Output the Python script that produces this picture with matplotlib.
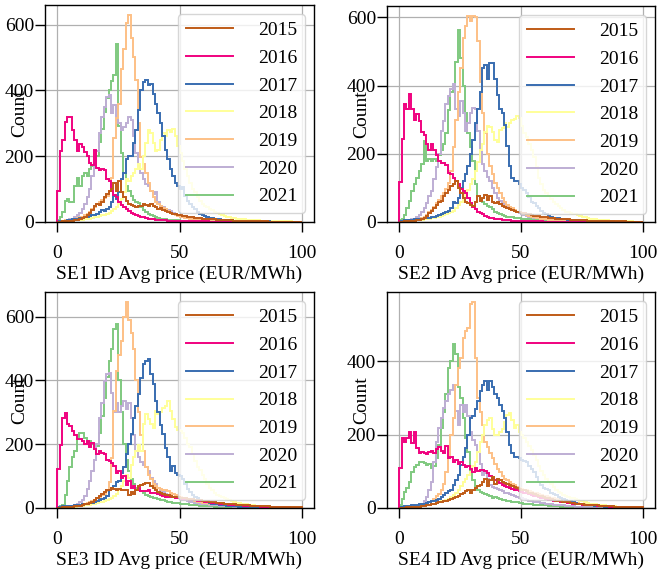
import numpy as np
from matplotlib import pyplot as plt
from matplotlib.ticker import MultipleLocator

plt.rcParams['font.family'] = ['Liberation Serif', 'DejaVu Serif']
plt.rcParams['font.size'] = 14

years = ['2015', '2016', '2017', '2018', '2019', '2020', '2021']
colors = ['#bf5b17', '#f0027f', '#386cb0', '#ffff99', '#fdc086', '#beaed4', '#7fc97f']
areas = ['SE1', 'SE2', 'SE3', 'SE4']

# hours per 1 EUR/MWh price bin, first bin starts at 0
se1_2015 = [1, 1, 2, 2, 3, 3, 4, 5, 6, 8,
            12, 15, 20, 28, 35, 50, 55, 52, 60, 75,
            85, 95, 100, 118, 95, 125, 90, 75, 65, 55,
            52, 50, 45, 48, 50, 55, 52, 50, 55, 48,
            45, 40, 42, 35, 32, 30, 28, 25, 24, 22,
            20, 18, 17, 16, 15, 14, 13, 12, 11, 10,
            10, 9, 9, 8, 8, 7, 7, 6, 6, 5,
            5, 5, 4, 4, 4, 3, 3, 3, 3, 2,
            2, 2, 2, 2, 2, 2, 1, 1, 1, 1,
            1, 1, 1, 1, 1, 1, 1, 1, 1, 1]
se1_2016 = [93, 215, 250, 305, 318, 320, 280, 250, 215, 238,
            228, 212, 200, 178, 172, 218, 165, 158, 160, 158,
            130, 125, 95, 83, 75, 62, 52, 45, 40, 32,
            28, 25, 22, 18, 15, 14, 12, 10, 9, 8,
            7, 6, 6, 5, 5, 4, 4, 4, 3, 3,
            3, 3, 3, 2, 2, 2, 2, 2, 2, 2,
            2, 2, 1, 1, 1, 1, 1, 1, 1, 1,
            1, 1, 1, 1, 1, 1, 1, 1, 1, 1,
            1, 1, 1, 1, 1, 1, 0, 1, 0, 1,
            0, 0, 1, 0, 0, 0, 1, 0, 0, 0]
se1_2017 = [2, 3, 3, 4, 5, 6, 8, 8, 10, 12,
            12, 14, 16, 18, 20, 22, 25, 30, 35, 32,
            38, 45, 60, 80, 70, 90, 130, 150, 190, 200,
            200, 240, 280, 340, 400, 425, 430, 415, 420, 390,
            360, 330, 300, 260, 220, 190, 160, 140, 120, 110,
            100, 105, 80, 65, 55, 45, 38, 30, 25, 20,
            18, 15, 13, 12, 10, 9, 8, 7, 6, 6,
            5, 5, 4, 4, 4, 3, 3, 3, 3, 2,
            2, 2, 2, 2, 2, 2, 2, 1, 1, 1,
            1, 1, 1, 1, 1, 1, 1, 1, 1, 1]
se1_2018 = [1, 1, 2, 2, 3, 3, 4, 5, 5, 6,
            7, 8, 9, 10, 12, 14, 16, 18, 20, 22,
            25, 28, 32, 38, 45, 55, 70, 90, 130, 125,
            140, 150, 160, 175, 160, 200, 240, 280, 270, 240,
            215, 220, 250, 270, 260, 280, 275, 282, 260, 230,
            210, 185, 160, 140, 120, 100, 90, 75, 65, 55,
            50, 45, 40, 35, 30, 27, 24, 20, 18, 16,
            15, 13, 12, 10, 9, 8, 8, 7, 7, 6,
            6, 5, 5, 4, 4, 4, 3, 3, 3, 3,
            2, 2, 2, 2, 2, 2, 1, 1, 1, 1]
se1_2019 = [2, 3, 4, 5, 6, 7, 8, 10, 12, 14,
            16, 20, 25, 30, 38, 45, 55, 60, 68, 72,
            78, 95, 135, 255, 315, 360, 465, 525, 605, 628,
            560, 500, 430, 300, 196, 175, 150, 120, 95, 75,
            62, 55, 48, 42, 38, 32, 28, 24, 20, 18,
            16, 14, 12, 11, 10, 9, 8, 7, 6, 6,
            5, 5, 4, 4, 4, 3, 3, 3, 3, 2,
            2, 2, 2, 2, 2, 2, 1, 1, 1, 1,
            1, 1, 1, 1, 1, 1, 1, 1, 1, 1,
            1, 1, 1, 0, 1, 0, 1, 0, 0, 1]
se1_2020 = [2, 2, 3, 4, 6, 8, 10, 14, 20, 28,
            40, 55, 75, 100, 140, 170, 215, 270, 320, 350,
            380, 385, 330, 355, 310, 300, 280, 290, 300, 320,
            310, 260, 210, 170, 150, 130, 115, 110, 95, 85,
            90, 60, 50, 45, 40, 35, 32, 28, 25, 22,
            20, 18, 17, 16, 15, 14, 13, 12, 11, 10,
            9, 8, 8, 7, 7, 6, 6, 5, 5, 4,
            4, 4, 3, 3, 3, 3, 2, 2, 2, 2,
            2, 2, 1, 1, 1, 1, 1, 1, 1, 1,
            1, 1, 1, 1, 1, 1, 1, 1, 1, 1]
se1_2021 = [5, 15, 30, 65, 70, 62, 60, 110, 135, 110,
            140, 150, 140, 160, 170, 175, 200, 242, 283, 334,
            376, 400, 427, 447, 540, 293, 211, 150, 110, 95,
            78, 68, 62, 57, 45, 37, 30, 25, 20, 18,
            15, 12, 10, 9, 8, 7, 6, 6, 5, 5,
            4, 4, 4, 3, 3, 3, 3, 2, 2, 2,
            2, 2, 2, 1, 1, 1, 1, 1, 1, 1,
            1, 1, 1, 1, 1, 1, 1, 1, 1, 1,
            1, 1, 1, 0, 1, 0, 1, 0, 1, 0,
            0, 1, 0, 0, 0, 1, 0, 0, 0, 0]

se2_2015 = [1, 1, 2, 2, 3, 3, 4, 5, 6, 8,
            12, 18, 25, 32, 40, 50, 58, 62, 75, 85,
            95, 105, 112, 120, 100, 85, 70, 60, 55, 50,
            48, 58, 75, 62, 70, 78, 65, 75, 60, 55,
            58, 52, 48, 45, 42, 38, 35, 32, 30, 28,
            26, 25, 24, 22, 20, 19, 18, 17, 16, 15,
            14, 13, 12, 11, 10, 10, 9, 9, 8, 8,
            7, 7, 6, 6, 5, 5, 5, 4, 4, 4,
            3, 3, 3, 3, 3, 2, 2, 2, 2, 2,
            2, 2, 2, 1, 1, 1, 1, 1, 1, 1]
se2_2016 = [116, 243, 345, 330, 376, 330, 300, 318, 297, 263,
            255, 228, 210, 228, 210, 195, 180, 172, 172, 168,
            145, 140, 130, 121, 110, 96, 91, 85, 70, 57,
            43, 37, 30, 26, 22, 18, 15, 13, 11, 10,
            9, 8, 7, 6, 5, 5, 4, 4, 3, 3,
            3, 3, 2, 2, 2, 2, 2, 2, 2, 1,
            1, 1, 1, 1, 1, 1, 1, 1, 1, 1,
            1, 1, 1, 1, 1, 1, 1, 1, 1, 1,
            1, 1, 1, 1, 0, 1, 0, 1, 0, 1,
            0, 0, 1, 0, 0, 1, 0, 0, 0, 0]
se2_2017 = [3, 4, 5, 5, 6, 7, 8, 9, 10, 10,
            11, 12, 13, 14, 16, 18, 20, 22, 25, 28,
            32, 40, 60, 55, 70, 100, 120, 140, 165, 200,
            240, 290, 330, 380, 450, 460, 420, 465, 465, 420,
            371, 330, 320, 283, 224, 165, 130, 121, 120, 110,
            100, 95, 85, 72, 60, 57, 48, 40, 32, 27,
            22, 18, 15, 13, 12, 11, 10, 9, 8, 7,
            6, 6, 5, 5, 4, 4, 4, 3, 3, 3,
            3, 2, 2, 2, 2, 2, 2, 2, 1, 1,
            1, 1, 1, 1, 1, 1, 1, 1, 1, 1]
se2_2018 = [2, 2, 3, 3, 4, 4, 5, 5, 6, 7,
            8, 9, 10, 11, 12, 14, 16, 18, 20, 22,
            25, 28, 32, 40, 50, 60, 75, 85, 95, 110,
            125, 150, 175, 210, 230, 265, 280, 278, 263, 240,
            235, 270, 275, 290, 278, 290, 300, 302, 310, 305,
            280, 260, 250, 230, 210, 190, 160, 130, 110, 95,
            85, 77, 68, 60, 52, 47, 40, 35, 30, 28,
            26, 24, 22, 20, 18, 16, 14, 12, 10, 9,
            8, 7, 6, 6, 5, 5, 4, 4, 3, 3,
            3, 2, 2, 2, 2, 2, 1, 1, 1, 1]
se2_2019 = [2, 2, 3, 3, 4, 5, 6, 8, 10, 12,
            15, 20, 28, 35, 45, 55, 65, 75, 85, 96,
            115, 150, 220, 300, 380, 450, 540, 575, 603, 590,
            603, 600, 530, 410, 320, 260, 200, 165, 140, 115,
            100, 85, 70, 60, 50, 45, 40, 35, 30, 28,
            25, 22, 20, 18, 16, 14, 12, 11, 10, 9,
            8, 7, 6, 6, 5, 5, 4, 4, 3, 3,
            3, 3, 2, 2, 2, 2, 2, 2, 1, 1,
            1, 1, 1, 1, 1, 1, 1, 1, 1, 1,
            1, 1, 1, 1, 1, 0, 1, 0, 1, 0]
se2_2020 = [2, 2, 3, 4, 5, 8, 10, 14, 20, 28,
            40, 55, 75, 91, 125, 160, 200, 268, 297, 347,
            370, 391, 405, 330, 310, 355, 320, 268, 290, 320,
            335, 330, 268, 209, 170, 150, 131, 120, 100, 85,
            70, 62, 55, 50, 45, 40, 35, 32, 28, 25,
            22, 20, 18, 16, 14, 13, 12, 11, 10, 9,
            8, 7, 7, 6, 6, 5, 5, 4, 4, 4,
            3, 3, 3, 3, 2, 2, 2, 2, 2, 2,
            1, 1, 1, 1, 1, 1, 1, 1, 1, 1,
            1, 1, 1, 1, 1, 1, 1, 1, 1, 1]
se2_2021 = [5, 10, 20, 40, 62, 90, 111, 130, 150, 170,
            238, 180, 185, 178, 185, 180, 195, 210, 230, 260,
            327, 380, 400, 470, 563, 480, 400, 320, 260, 220,
            180, 110, 75, 65, 58, 52, 48, 45, 38, 30,
            25, 22, 20, 18, 16, 15, 14, 13, 12, 11,
            10, 9, 8, 8, 7, 7, 6, 6, 5, 5,
            4, 4, 4, 3, 3, 3, 3, 2, 2, 2,
            2, 2, 2, 1, 1, 1, 1, 1, 1, 1,
            1, 1, 1, 1, 1, 1, 1, 0, 1, 0,
            1, 0, 0, 1, 0, 0, 0, 1, 0, 0]

se3_2015 = [1, 1, 2, 2, 3, 3, 4, 5, 6, 7,
            9, 11, 13, 16, 20, 25, 30, 38, 45, 50,
            57, 55, 62, 60, 57, 60, 57, 55, 58, 42,
            50, 45, 55, 68, 72, 75, 79, 78, 70, 62,
            55, 50, 48, 45, 42, 40, 38, 36, 35, 34,
            32, 31, 30, 29, 28, 27, 26, 25, 24, 23,
            22, 21, 20, 19, 18, 17, 16, 15, 14, 13,
            12, 11, 11, 10, 10, 9, 9, 8, 8, 7,
            7, 6, 6, 6, 5, 5, 5, 4, 4, 4,
            4, 3, 3, 3, 3, 3, 2, 2, 2, 2]
se3_2016 = [121, 199, 283, 299, 262, 258, 241, 230, 215, 215,
            210, 200, 210, 190, 205, 185, 168, 178, 173, 170,
            152, 147, 140, 131, 110, 115, 94, 100, 73, 84,
            63, 68, 58, 63, 52, 52, 52, 58, 47, 47,
            47, 45, 40, 38, 36, 35, 34, 33, 32, 31,
            30, 29, 28, 27, 26, 25, 24, 23, 22, 21,
            20, 19, 18, 17, 16, 15, 14, 13, 12, 11,
            10, 10, 9, 9, 8, 8, 7, 7, 6, 6,
            5, 5, 5, 4, 4, 4, 3, 3, 3, 3,
            2, 2, 2, 2, 2, 1, 1, 1, 1, 1]
se3_2017 = [3, 4, 5, 5, 6, 6, 7, 8, 9, 10,
            11, 12, 14, 15, 17, 20, 22, 25, 28, 32,
            38, 55, 63, 70, 80, 84, 110, 130, 168, 200,
            231, 283, 320, 357, 409, 451, 460, 467, 420, 388,
            336, 300, 260, 231, 189, 160, 115, 131, 110, 105,
            100, 90, 75, 60, 50, 42, 35, 30, 25, 22,
            20, 18, 16, 14, 12, 11, 10, 9, 8, 7,
            6, 6, 5, 5, 4, 4, 4, 3, 3, 3,
            3, 2, 2, 2, 2, 2, 2, 1, 1, 1,
            1, 1, 1, 1, 1, 1, 1, 1, 1, 1]
se3_2018 = [1, 1, 2, 2, 3, 3, 4, 4, 5, 6,
            7, 8, 9, 10, 12, 14, 16, 18, 20, 22,
            25, 28, 32, 38, 45, 55, 70, 85, 105, 95,
            136, 160, 178, 199, 180, 262, 294, 280, 262, 252,
            304, 295, 300, 315, 320, 336, 304, 280, 253, 245,
            240, 235, 220, 200, 190, 170, 146, 130, 118, 105,
            90, 75, 64, 55, 48, 42, 38, 34, 30, 27,
            25, 22, 20, 17, 15, 14, 12, 11, 10, 9,
            8, 7, 7, 6, 6, 5, 5, 4, 4, 4,
            3, 3, 3, 2, 2, 2, 2, 1, 1, 1]
se3_2019 = [1, 1, 2, 2, 3, 3, 4, 5, 6, 8,
            10, 12, 15, 18, 22, 26, 30, 35, 40, 45,
            52, 80, 157, 304, 430, 480, 524, 600, 645, 590,
            550, 500, 400, 300, 230, 178, 130, 105, 90, 75,
            70, 63, 60, 58, 55, 52, 48, 45, 42, 38,
            35, 32, 30, 28, 26, 24, 22, 20, 18, 17,
            16, 15, 14, 13, 12, 11, 10, 9, 8, 8,
            7, 7, 6, 6, 5, 5, 5, 4, 4, 4,
            3, 3, 3, 3, 2, 2, 2, 2, 2, 2,
            1, 1, 1, 1, 1, 1, 1, 1, 1, 1]
se3_2020 = [1, 2, 2, 3, 4, 5, 7, 9, 12, 18,
            25, 38, 60, 84, 115, 150, 200, 283, 330, 399,
            420, 422, 360, 300, 330, 300, 320, 336, 310, 330,
            283, 230, 178, 160, 145, 136, 130, 115, 94, 85,
            75, 63, 55, 50, 45, 42, 38, 35, 32, 30,
            28, 26, 24, 22, 20, 18, 16, 15, 14, 13,
            12, 11, 10, 9, 8, 8, 7, 7, 6, 6,
            5, 5, 4, 4, 4, 3, 3, 3, 3, 2,
            2, 2, 2, 2, 2, 1, 1, 1, 1, 1,
            1, 1, 1, 1, 1, 1, 1, 1, 1, 1]
se3_2021 = [3, 5, 10, 40, 84, 130, 160, 178, 215, 236,
            236, 220, 205, 210, 200, 185, 195, 235, 290, 345,
            410, 460, 500, 560, 577, 400, 300, 200, 150, 115,
            90, 75, 63, 55, 52, 48, 42, 38, 35, 32,
            30, 28, 26, 24, 22, 20, 18, 17, 16, 15,
            14, 13, 12, 11, 10, 9, 8, 8, 7, 7,
            6, 6, 5, 5, 4, 4, 4, 3, 3, 3,
            3, 2, 2, 2, 2, 2, 2, 1, 1, 1,
            1, 1, 1, 1, 1, 1, 1, 1, 1, 1,
            1, 1, 0, 1, 0, 1, 0, 0, 1, 0]

se4_2015 = [1, 1, 1, 2, 2, 2, 3, 3, 4, 5,
            6, 7, 8, 10, 12, 13, 15, 16, 18, 20,
            22, 25, 28, 30, 32, 38, 40, 45, 48, 42,
            50, 55, 60, 62, 70, 80, 60, 75, 85, 65,
            80, 75, 70, 68, 65, 62, 60, 58, 55, 52,
            50, 48, 45, 42, 40, 38, 36, 34, 32, 30,
            28, 26, 24, 22, 20, 19, 18, 17, 16, 15,
            14, 13, 12, 11, 10, 10, 9, 9, 8, 8,
            7, 7, 6, 6, 6, 5, 5, 5, 4, 4,
            4, 4, 3, 3, 3, 3, 3, 2, 2, 2]
se4_2016 = [110, 190, 181, 190, 208, 176, 208, 163, 150, 152,
            150, 148, 152, 155, 150, 160, 165, 155, 150, 170,
            135, 140, 126, 130, 121, 125, 118, 112, 115, 105,
            99, 108, 100, 103, 104, 100, 95, 88, 80, 75,
            72, 68, 62, 60, 58, 55, 52, 50, 48, 45,
            43, 42, 40, 38, 36, 34, 32, 30, 28, 26,
            25, 23, 22, 20, 19, 18, 17, 16, 15, 14,
            13, 12, 11, 10, 10, 9, 9, 8, 8, 7,
            7, 6, 6, 5, 5, 5, 4, 4, 4, 4,
            3, 3, 3, 3, 2, 2, 2, 2, 2, 2]
se4_2017 = [3, 4, 5, 5, 6, 7, 8, 9, 10, 11,
            12, 14, 16, 18, 20, 22, 25, 30, 35, 40,
            45, 50, 62, 75, 89, 117, 140, 162, 200, 245,
            250, 270, 290, 318, 336, 345, 320, 345, 330, 309,
            300, 281, 265, 245, 208, 172, 150, 140, 140, 135,
            130, 128, 126, 115, 105, 99, 85, 71, 62, 55,
            53, 48, 42, 38, 35, 30, 27, 24, 22, 20,
            18, 16, 14, 12, 11, 10, 9, 8, 7, 7,
            6, 6, 5, 5, 4, 4, 4, 3, 3, 3,
            3, 2, 2, 2, 2, 2, 2, 1, 1, 1]
se4_2018 = [1, 1, 2, 2, 3, 3, 4, 4, 5, 6,
            7, 8, 9, 10, 12, 14, 16, 18, 20, 22,
            25, 30, 35, 40, 50, 60, 70, 80, 90, 99,
            115, 126, 153, 181, 200, 226, 240, 245, 215, 199,
            199, 208, 215, 235, 254, 258, 240, 217, 225, 208,
            200, 190, 181, 170, 158, 144, 130, 115, 100, 89,
            80, 71, 65, 58, 50, 44, 40, 36, 32, 30,
            28, 26, 24, 22, 20, 18, 16, 14, 12, 11,
            10, 9, 8, 8, 7, 6, 6, 5, 5, 4,
            4, 4, 3, 3, 3, 2, 2, 2, 2, 2]
se4_2019 = [1, 1, 2, 2, 3, 3, 4, 5, 6, 7,
            9, 12, 15, 20, 25, 32, 39, 50, 65, 99,
            140, 200, 245, 336, 380, 409, 464, 482, 491, 555,
            560, 409, 300, 260, 226, 181, 165, 150, 135, 120,
            105, 99, 88, 80, 75, 70, 65, 62, 58, 55,
            52, 50, 48, 46, 44, 42, 40, 38, 36, 34,
            32, 30, 28, 26, 24, 22, 20, 19, 18, 17,
            16, 15, 14, 13, 12, 11, 10, 9, 8, 8,
            7, 7, 6, 6, 5, 5, 5, 4, 4, 4,
            3, 3, 3, 3, 2, 2, 2, 2, 2, 2]
se4_2020 = [1, 2, 2, 3, 3, 4, 5, 6, 8, 12,
            20, 30, 50, 71, 126, 180, 217, 245, 272, 290,
            309, 320, 336, 263, 225, 281, 260, 281, 250, 208,
            185, 172, 153, 120, 89, 95, 80, 62, 58, 55,
            52, 48, 45, 42, 40, 38, 35, 32, 30, 28,
            26, 24, 22, 20, 18, 17, 16, 15, 14, 13,
            12, 11, 10, 9, 8, 8, 7, 7, 6, 6,
            5, 5, 4, 4, 4, 3, 3, 3, 3, 2,
            2, 2, 2, 2, 2, 1, 1, 1, 1, 1,
            1, 1, 1, 1, 1, 1, 1, 1, 1, 1]
se4_2021 = [8, 25, 44, 55, 71, 99, 112, 117, 126, 126,
            122, 118, 120, 108, 115, 135, 172, 217, 260, 309,
            382, 400, 446, 420, 330, 300, 245, 190, 153, 100,
            75, 55, 50, 44, 40, 38, 35, 32, 28, 30,
            26, 24, 22, 21, 20, 18, 17, 16, 15, 14,
            13, 12, 11, 10, 10, 9, 9, 8, 8, 7,
            7, 6, 6, 5, 5, 5, 4, 4, 4, 3,
            3, 3, 3, 2, 2, 2, 2, 2, 2, 1,
            1, 1, 1, 1, 1, 1, 1, 1, 1, 1,
            1, 1, 1, 1, 1, 1, 1, 1, 1, 1]

counts = {
    'SE1': [se1_2015, se1_2016, se1_2017, se1_2018, se1_2019, se1_2020, se1_2021],
    'SE2': [se2_2015, se2_2016, se2_2017, se2_2018, se2_2019, se2_2020, se2_2021],
    'SE3': [se3_2015, se3_2016, se3_2017, se3_2018, se3_2019, se3_2020, se3_2021],
    'SE4': [se4_2015, se4_2016, se4_2017, se4_2018, se4_2019, se4_2020, se4_2021],
}

W, H = 660, 572
# axes boxes in pixels: left, top, right, bottom
boxes = [(45, 5, 314, 222), (387, 6, 655, 222),
         (45, 292, 314, 508), (387, 292, 655, 508)]

fig = plt.figure(figsize=(W / 100, H / 100), dpi=100)

for area, (l, t, r, b) in zip(areas, boxes):
    ax = fig.add_axes([l / W, 1 - b / H, (r - l) / W, (b - t) / H])
    # later years drawn first so 2015 ends up on top
    for year, color, c in reversed(list(zip(years, colors, counts[area]))):
        edges = np.arange(len(c) + 1)
        ax.stairs(c, edges, color=color, linewidth=1.4, label=year)

    ax.set_ylim(bottom=0)
    ax.xaxis.set_major_locator(MultipleLocator(50))
    ax.yaxis.set_major_locator(MultipleLocator(200))
    ax.grid(True, color='#b0b0b0', linewidth=0.9)
    ax.set_axisbelow(True)
    for s in ax.spines.values():
        s.set_color('black')
        s.set_linewidth(1.0)
    ax.tick_params(direction='out', length=7.5, width=1.0, labelsize=14)
    ax.tick_params(axis='x', pad=9)
    ax.tick_params(axis='y', pad=0.5)

    ax.set_xlabel('{} ID Avg price (EUR/MWh)'.format(area), labelpad=2.5)
    ax.set_ylabel('Count')
    ax.yaxis.set_label_coords(-0.063, 0.5)

    handles, labels = ax.get_legend_handles_labels()
    ax.legend(handles[::-1], labels[::-1], loc='upper right', fontsize=14,
              handlelength=2.4, handletextpad=1.3, labelspacing=0.52,
              borderaxespad=0.45, framealpha=0.8, edgecolor='0.8')

fig.savefig('out.png', dpi=100)
